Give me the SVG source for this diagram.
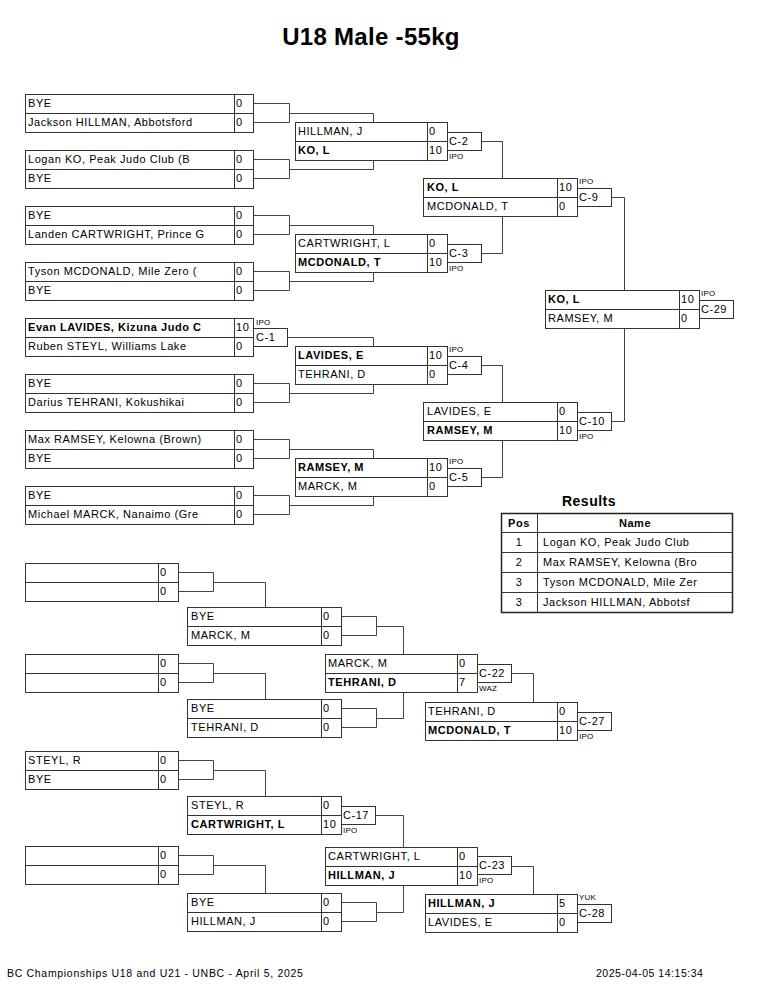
<svg xmlns="http://www.w3.org/2000/svg" width="765" height="990" viewBox="0 0 765 990">
<style>
rect.bx{fill:#fff;stroke:#333;stroke-width:1}
path.dv{fill:none;stroke:#333;stroke-width:1}
rect.lb{fill:#fff;stroke:#333;stroke-width:1}
.cn path{fill:none;stroke:#444;stroke-width:1}
text{font-family:"Liberation Sans",Arial,sans-serif;font-size:11px;fill:#000;letter-spacing:0.55px}
text.b{font-weight:bold}
text.sm{font-size:8px;letter-spacing:0.2px}
text.title{font-size:24px;font-weight:bold;letter-spacing:0.3px}
text.res{font-size:14px;font-weight:bold;letter-spacing:0.5px}
text.ft{font-size:10.5px;letter-spacing:0.1px}
</style>
<rect width="765" height="990" fill="#fff"/>
<text class="title" x="371" y="45" text-anchor="middle">U18 Male -55kg</text>

<!-- connectors -->
<g id="connectors" class="cn">
<path d="M253.5 103.5H289.5V122.5H253.5M289.5 113.5H373.5V122"/>
<path d="M253.5 159.5H289.5V178.5H253.5M289.5 169.5H373.5V160"/>
<path d="M253.5 215.5H289.5V234.5H253.5M289.5 225.5H373.5V234"/>
<path d="M253.5 271.5H289.5V290.5H253.5M289.5 281.5H373.5V272"/>
<path d="M287 337.5H373.5V346"/>
<path d="M253.5 383.5H289.5V402.5H253.5M289.5 393.5H373.5V384"/>
<path d="M253.5 439.5H289.5V458.5H253.5M289.5 449.5H373.5V458"/>
<path d="M253.5 495.5H289.5V514.5H253.5M289.5 505.5H373.5V496"/>
<path d="M481 141.5H502.5V178"/>
<path d="M481 253.5H502.5V216"/>
<path d="M481 365.5H502.5V402"/>
<path d="M481 477.5H502.5V440"/>
<path d="M611 197.5H624.5V290"/>
<path d="M611 421.5H624.5V328"/>
<path d="M178.5 572.5H213.5V591.5H178.5M213.5 582.5H265.5V607"/>
<path d="M178.5 663.5H213.5V682.5H178.5M213.5 673.5H265.5V699"/>
<path d="M178.5 760.5H213.5V779.5H178.5M213.5 770.5H265.5V796"/>
<path d="M178.5 855.5H213.5V874.5H178.5M213.5 865.5H265.5V893"/>
<path d="M341.5 616.5H376.5V635.5H341.5M376.5 626.5H403.5V654"/>
<path d="M341.5 708.5H376.5V727.5H341.5M376.5 718.5H403.5V692"/>
<path d="M375 815.5H403.5V847"/>
<path d="M341.5 902.5H376.5V921.5H341.5M376.5 912.5H403.5V885"/>
<path d="M511 673.5H533.5V702"/>
<path d="M511 866.5H533.5V894"/>
</g>

<!-- Round 1 -->
<g id="r1m1"><rect class="bx" x="25.5" y="94.5" width="228" height="38"/><path class="dv" d="M25.5 113.5H253.5M234.5 94.5V132.5"/>
<text x="28" y="107">BYE</text><text x="236" y="107">0</text><text x="28" y="126">Jackson HILLMAN, Abbotsford</text><text x="236" y="126">0</text></g>
<g id="r1m2"><rect class="bx" x="25.5" y="150.5" width="228" height="38"/><path class="dv" d="M25.5 169.5H253.5M234.5 150.5V188.5"/>
<text x="28" y="163">Logan KO, Peak Judo Club (B</text><text x="236" y="163">0</text><text x="28" y="182">BYE</text><text x="236" y="182">0</text></g>
<g id="r1m3"><rect class="bx" x="25.5" y="206.5" width="228" height="38"/><path class="dv" d="M25.5 225.5H253.5M234.5 206.5V244.5"/>
<text x="28" y="219">BYE</text><text x="236" y="219">0</text><text x="28" y="238">Landen CARTWRIGHT, Prince G</text><text x="236" y="238">0</text></g>
<g id="r1m4"><rect class="bx" x="25.5" y="262.5" width="228" height="38"/><path class="dv" d="M25.5 281.5H253.5M234.5 262.5V300.5"/>
<text x="28" y="275">Tyson MCDONALD, Mile Zero (</text><text x="236" y="275">0</text><text x="28" y="294">BYE</text><text x="236" y="294">0</text></g>
<g id="r1m5"><rect class="bx" x="25.5" y="318.5" width="228" height="38"/><path class="dv" d="M25.5 337.5H253.5M234.5 318.5V356.5"/>
<text class="b" x="28" y="331" letter-spacing="0.3">Evan LAVIDES, Kizuna Judo C</text><text x="236" y="331">10</text><text x="28" y="350">Ruben STEYL, Williams Lake</text><text x="236" y="350">0</text>
<rect class="lb" x="253.5" y="328.5" width="34" height="18"/><text x="256" y="341">C-1</text><text class="sm" x="256" y="325">IPO</text></g>
<g id="r1m6"><rect class="bx" x="25.5" y="374.5" width="228" height="38"/><path class="dv" d="M25.5 393.5H253.5M234.5 374.5V412.5"/>
<text x="28" y="387">BYE</text><text x="236" y="387">0</text><text x="28" y="406">Darius TEHRANI, Kokushikai</text><text x="236" y="406">0</text></g>
<g id="r1m7"><rect class="bx" x="25.5" y="430.5" width="228" height="38"/><path class="dv" d="M25.5 449.5H253.5M234.5 430.5V468.5"/>
<text x="28" y="443">Max RAMSEY, Kelowna (Brown)</text><text x="236" y="443">0</text><text x="28" y="462">BYE</text><text x="236" y="462">0</text></g>
<g id="r1m8"><rect class="bx" x="25.5" y="486.5" width="228" height="38"/><path class="dv" d="M25.5 505.5H253.5M234.5 486.5V524.5"/>
<text x="28" y="499">BYE</text><text x="236" y="499">0</text><text x="28" y="518">Michael MARCK, Nanaimo (Gre</text><text x="236" y="518">0</text></g>

<!-- Round 2 -->
<g id="c2"><rect class="bx" x="295.5" y="122.5" width="152" height="38"/><path class="dv" d="M295.5 141.5H447.5M427.5 122.5V160.5"/>
<text x="298" y="135">HILLMAN, J</text><text x="429" y="135">0</text><text class="b" x="298" y="154">KO, L</text><text x="429" y="154">10</text>
<rect class="lb" x="447.5" y="132.5" width="34" height="18"/><text x="449" y="145">C-2</text><text class="sm" x="449" y="159">IPO</text></g>
<g id="c3"><rect class="bx" x="295.5" y="234.5" width="152" height="38"/><path class="dv" d="M295.5 253.5H447.5M427.5 234.5V272.5"/>
<text x="298" y="247">CARTWRIGHT, L</text><text x="429" y="247">0</text><text class="b" x="298" y="266">MCDONALD, T</text><text x="429" y="266">10</text>
<rect class="lb" x="447.5" y="244.5" width="34" height="18"/><text x="449" y="257">C-3</text><text class="sm" x="449" y="271">IPO</text></g>
<g id="c4"><rect class="bx" x="295.5" y="346.5" width="152" height="38"/><path class="dv" d="M295.5 365.5H447.5M427.5 346.5V384.5"/>
<text class="b" x="298" y="359">LAVIDES, E</text><text x="429" y="359">10</text><text x="298" y="378">TEHRANI, D</text><text x="429" y="378">0</text>
<rect class="lb" x="447.5" y="356.5" width="34" height="18"/><text x="449" y="369">C-4</text><text class="sm" x="449" y="352">IPO</text></g>
<g id="c5"><rect class="bx" x="295.5" y="458.5" width="152" height="38"/><path class="dv" d="M295.5 477.5H447.5M427.5 458.5V496.5"/>
<text class="b" x="298" y="471">RAMSEY, M</text><text x="429" y="471">10</text><text x="298" y="490">MARCK, M</text><text x="429" y="490">0</text>
<rect class="lb" x="447.5" y="468.5" width="34" height="18"/><text x="449" y="481">C-5</text><text class="sm" x="449" y="464">IPO</text></g>

<!-- Round 3 -->
<g id="c9"><rect class="bx" x="423.5" y="178.5" width="154" height="38"/><path class="dv" d="M423.5 197.5H577.5M557.5 178.5V216.5"/>
<text class="b" x="427" y="191">KO, L</text><text x="559" y="191">10</text><text x="427" y="210">MCDONALD, T</text><text x="559" y="210">0</text>
<rect class="lb" x="577.5" y="188.5" width="34" height="18"/><text x="579" y="201">C-9</text><text class="sm" x="579" y="184">IPO</text></g>
<g id="c10"><rect class="bx" x="423.5" y="402.5" width="154" height="38"/><path class="dv" d="M423.5 421.5H577.5M557.5 402.5V440.5"/>
<text x="427" y="415">LAVIDES, E</text><text x="559" y="415">0</text><text class="b" x="427" y="434">RAMSEY, M</text><text x="559" y="434">10</text>
<rect class="lb" x="577.5" y="412.5" width="34" height="18"/><text x="579" y="425">C-10</text><text class="sm" x="579" y="439">IPO</text></g>

<!-- Final -->
<g id="c29"><rect class="bx" x="545.5" y="290.5" width="154" height="38"/><path class="dv" d="M545.5 309.5H699.5M679.5 290.5V328.5"/>
<text class="b" x="548" y="303">KO, L</text><text x="681" y="303">10</text><text x="548" y="322">RAMSEY, M</text><text x="681" y="322">0</text>
<rect class="lb" x="699.5" y="300.5" width="34" height="18"/><text x="701" y="313">C-29</text><text class="sm" x="701" y="296">IPO</text></g>

<!-- Results -->
<g id="results">
<text class="res" x="589" y="506" text-anchor="middle">Results</text>
<rect x="501.5" y="513.5" width="231" height="99" fill="#fff" stroke="#222" stroke-width="1.5"/>
<path d="M501.5 532.5H732.5M501.5 552.5H732.5M501.5 572.5H732.5M501.5 592.5H732.5M537.5 513.5V612.5" fill="none" stroke="#333"/>
<text class="b" x="519" y="527" text-anchor="middle" letter-spacing="0.2">Pos</text><text class="b" x="635" y="527" text-anchor="middle" letter-spacing="0.2">Name</text>
<text x="519" y="546" text-anchor="middle">1</text><text x="543" y="546">Logan KO, Peak Judo Club</text>
<text x="519" y="566" text-anchor="middle">2</text><text x="543" y="566">Max RAMSEY, Kelowna (Bro</text>
<text x="519" y="586" text-anchor="middle">3</text><text x="543" y="586">Tyson MCDONALD, Mile Zer</text>
<text x="519" y="606" text-anchor="middle">3</text><text x="543" y="606">Jackson HILLMAN, Abbotsf</text>
</g>

<!-- Repechage column A -->
<g id="ra1"><rect class="bx" x="25.5" y="563.5" width="153" height="38"/><path class="dv" d="M25.5 582.5H178.5M158.5 563.5V601.5"/>
<text x="160" y="576">0</text><text x="160" y="595">0</text></g>
<g id="ra2"><rect class="bx" x="25.5" y="654.5" width="153" height="38"/><path class="dv" d="M25.5 673.5H178.5M158.5 654.5V692.5"/>
<text x="160" y="667">0</text><text x="160" y="686">0</text></g>
<g id="ra3"><rect class="bx" x="25.5" y="751.5" width="153" height="38"/><path class="dv" d="M25.5 770.5H178.5M158.5 751.5V789.5"/>
<text x="28" y="764">STEYL, R</text><text x="160" y="764">0</text><text x="28" y="783">BYE</text><text x="160" y="783">0</text></g>
<g id="ra4"><rect class="bx" x="25.5" y="846.5" width="153" height="38"/><path class="dv" d="M25.5 865.5H178.5M158.5 846.5V884.5"/>
<text x="160" y="859">0</text><text x="160" y="878">0</text></g>

<!-- Repechage column B -->
<g id="rb1"><rect class="bx" x="187.5" y="607.5" width="154" height="38"/><path class="dv" d="M187.5 626.5H341.5M321.5 607.5V645.5"/>
<text x="191" y="620">BYE</text><text x="323" y="620">0</text><text x="191" y="639">MARCK, M</text><text x="323" y="639">0</text></g>
<g id="rb2"><rect class="bx" x="187.5" y="699.5" width="154" height="38"/><path class="dv" d="M187.5 718.5H341.5M321.5 699.5V737.5"/>
<text x="191" y="712">BYE</text><text x="323" y="712">0</text><text x="191" y="731">TEHRANI, D</text><text x="323" y="731">0</text></g>
<g id="c17"><rect class="bx" x="187.5" y="796.5" width="154" height="38"/><path class="dv" d="M187.5 815.5H341.5M321.5 796.5V834.5"/>
<text x="191" y="809">STEYL, R</text><text x="323" y="809">0</text><text class="b" x="191" y="828">CARTWRIGHT, L</text><text x="323" y="828">10</text>
<rect class="lb" x="341.5" y="806.5" width="34" height="18"/><text x="343" y="819">C-17</text><text class="sm" x="343" y="833">IPO</text></g>
<g id="rb4"><rect class="bx" x="187.5" y="893.5" width="154" height="38"/><path class="dv" d="M187.5 912.5H341.5M321.5 893.5V931.5"/>
<text x="191" y="906">BYE</text><text x="323" y="906">0</text><text x="191" y="925">HILLMAN, J</text><text x="323" y="925">0</text></g>

<!-- Repechage column C -->
<g id="c22"><rect class="bx" x="325.5" y="654.5" width="152" height="38"/><path class="dv" d="M325.5 673.5H477.5M457.5 654.5V692.5"/>
<text x="328" y="667">MARCK, M</text><text x="459" y="667">0</text><text class="b" x="328" y="686">TEHRANI, D</text><text x="459" y="686">7</text>
<rect class="lb" x="477.5" y="664.5" width="34" height="18"/><text x="479" y="677">C-22</text><text class="sm" x="479" y="691">WAZ</text></g>
<g id="c23"><rect class="bx" x="325.5" y="847.5" width="152" height="38"/><path class="dv" d="M325.5 866.5H477.5M457.5 847.5V885.5"/>
<text x="328" y="860">CARTWRIGHT, L</text><text x="459" y="860">0</text><text class="b" x="328" y="879">HILLMAN, J</text><text x="459" y="879">10</text>
<rect class="lb" x="477.5" y="856.5" width="34" height="18"/><text x="479" y="869">C-23</text><text class="sm" x="479" y="883">IPO</text></g>

<!-- Repechage column D -->
<g id="c27"><rect class="bx" x="425.5" y="702.5" width="152" height="38"/><path class="dv" d="M425.5 721.5H577.5M557.5 702.5V740.5"/>
<text x="428" y="715">TEHRANI, D</text><text x="559" y="715">0</text><text class="b" x="428" y="734">MCDONALD, T</text><text x="559" y="734">10</text>
<rect class="lb" x="577.5" y="712.5" width="34" height="18"/><text x="579" y="725">C-27</text><text class="sm" x="579" y="739">IPO</text></g>
<g id="c28"><rect class="bx" x="425.5" y="894.5" width="152" height="38"/><path class="dv" d="M425.5 913.5H577.5M557.5 894.5V932.5"/>
<text class="b" x="428" y="907">HILLMAN, J</text><text x="559" y="907">5</text><text x="428" y="926">LAVIDES, E</text><text x="559" y="926">0</text>
<rect class="lb" x="577.5" y="904.5" width="34" height="18"/><text x="579" y="917">C-28</text><text class="sm" x="579" y="900">YUK</text></g>

<text class="ft" x="7" y="977" textLength="296" lengthAdjust="spacing">BC Championships U18 and U21 - UNBC - April 5, 2025</text>
<text class="ft" x="596" y="977" textLength="107" lengthAdjust="spacing">2025-04-05 14:15:34</text>
</svg>
